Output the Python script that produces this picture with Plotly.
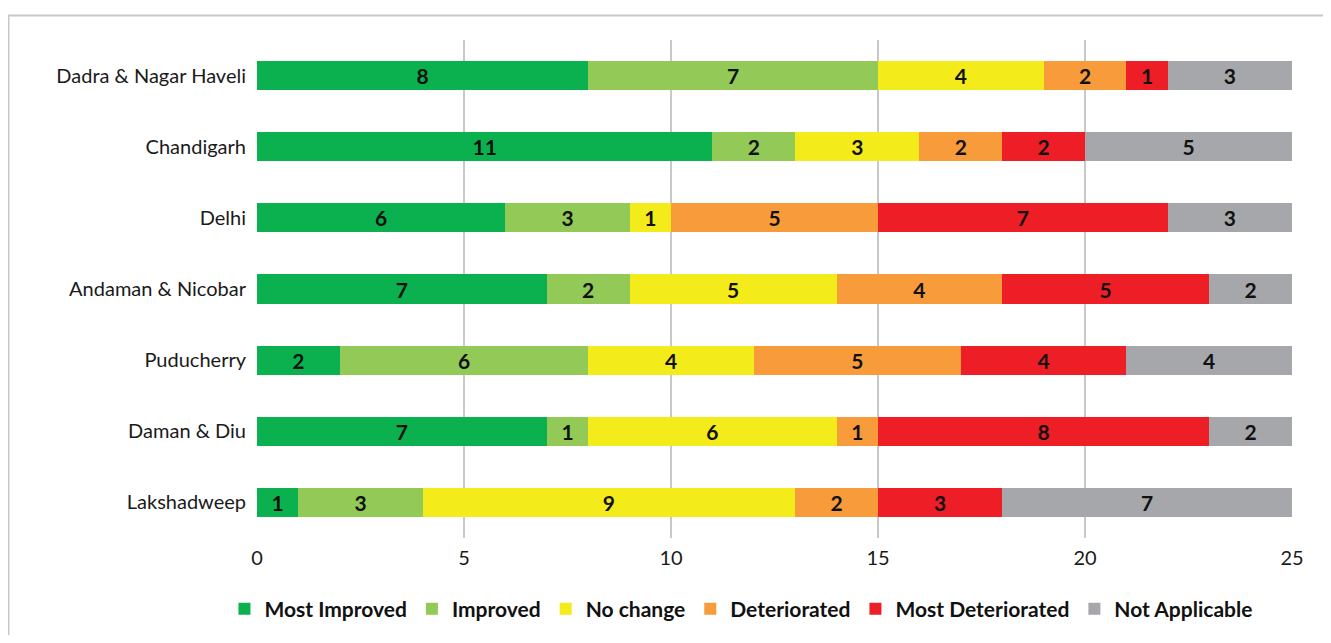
import plotly.graph_objects as go

regions = [
    "Dadra & Nagar Haveli",
    "Chandigarh",
    "Delhi",
    "Andaman & Nicobar",
    "Puducherry",
    "Daman & Diu",
    "Lakshadweep",
]

most_improved = [8, 11, 6, 7, 2, 7, 1]
improved = [7, 2, 3, 2, 6, 1, 3]
no_change = [4, 3, 1, 5, 4, 6, 9]
deteriorated = [2, 2, 5, 4, 5, 1, 2]
most_deteriorated = [1, 2, 7, 5, 4, 8, 3]
not_applicable = [3, 5, 3, 2, 4, 2, 7]

series = [
    ("Most Improved", most_improved, "#0bb14f"),
    ("Improved", improved, "#92c957"),
    ("No change", no_change, "#f4eb1b"),
    ("Deteriorated", deteriorated, "#f89b3a"),
    ("Most Deteriorated", most_deteriorated, "#ee1e26"),
    ("Not Applicable", not_applicable, "#a6a7aa"),
]

fig = go.Figure()
for name, values, color in series:
    fig.add_trace(
        go.Bar(
            name=f"<b>{name}</b>",
            y=regions,
            x=values,
            orientation="h",
            marker=dict(color=color, line=dict(width=0)),
            text=values,
            texttemplate="<b>%{text}</b>",
            textposition="inside",
            insidetextanchor="middle",
            textangle=0,
            textfont=dict(color="#111111", size=21, family="Lato"),
            constraintext="none",
        )
    )

# light frame around the chart
fig.add_shape(
    type="rect",
    xref="paper", yref="paper",
    x0=-0.2401, x1=1.2,
    y0=-0.4, y1=1.0492,
    line=dict(color="#c8c8c8", width=2),
    fillcolor="rgba(0,0,0,0)",
    layer="below",
)

fig.update_layout(
    barmode="stack",
    bargap=0.59,
    width=1315,
    height=627,
    margin=dict(l=249, r=31, t=32, b=97, autoexpand=False),
    plot_bgcolor="white",
    paper_bgcolor="white",
    font=dict(family="Lato", size=20, color="#1a1a1a"),
    showlegend=True,
    legend=dict(
        orientation="h",
        x=0.4676,
        xanchor="center",
        yref="container",
        y=0.0415,
        yanchor="middle",
        font=dict(size=21, family="Lato", color="#111111"),
        traceorder="normal",
        itemwidth=30,
    ),
)

fig.update_xaxes(
    range=[0, 25],
    dtick=5,
    showgrid=True,
    gridcolor="#c8c8c8",
    gridwidth=1.5,
    zeroline=False,
    showline=False,
    ticks="",
    ticklabelstandoff=6,
    tickfont=dict(size=20, color="#1a1a1a"),
)
fig.update_yaxes(
    autorange="reversed",
    showgrid=False,
    showline=False,
    ticks="",
    ticklabelstandoff=10,
    tickfont=dict(size=20, color="#1a1a1a"),
)

fig.write_html("out.html")
